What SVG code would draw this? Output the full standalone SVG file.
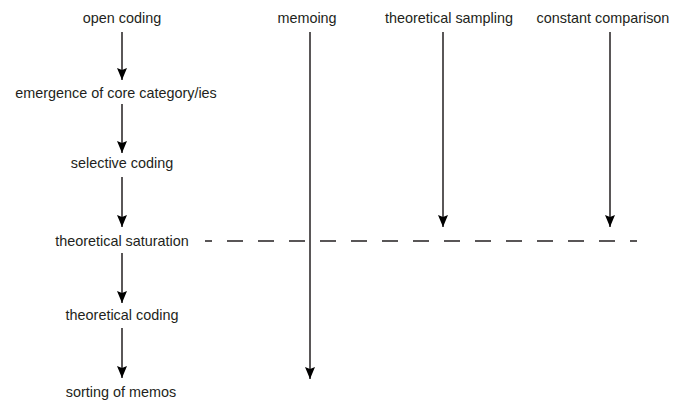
<svg xmlns="http://www.w3.org/2000/svg" width="676" height="405" viewBox="0 0 676 405">
<style>
text{font-family:"Liberation Sans",Arial,sans-serif;font-size:14.4px;fill:#231f20;text-anchor:middle}
.c{stroke:#231f20;stroke-width:1.5;fill:none}
.d{stroke:#231f20;stroke-width:1.5;fill:none;stroke-dasharray:16 15;stroke-dashoffset:9}
</style>
<defs>
<marker id="ah" markerWidth="12" markerHeight="10" refX="12" refY="5" orient="auto" markerUnits="userSpaceOnUse" viewBox="0 0 12 10">
<path d="M0,0 L12,5 L0,10 L2,5 Z" fill="#000"/>
</marker>
</defs>
<rect width="676" height="405" fill="#fff"/>
<g id="open-coding"><text x="122" y="23">open coding</text></g>
<g id="emergence"><text x="116" y="98">emergence of core category/ies</text></g>
<g id="selective-coding"><text x="122" y="168">selective coding</text></g>
<g id="theoretical-saturation"><text x="122" y="246">theoretical saturation</text></g>
<g id="theoretical-coding"><text x="122" y="320">theoretical coding</text></g>
<g id="sorting-of-memos"><text x="121" y="397">sorting of memos</text></g>
<g id="memoing"><text x="307" y="23">memoing</text></g>
<g id="theoretical-sampling"><text x="449" y="23">theoretical sampling</text></g>
<g id="constant-comparison"><text x="603" y="23">constant comparison</text></g>
<g id="connectors">
<line class="c" x1="122" y1="32" x2="122" y2="80" marker-end="url(#ah)"/>
<line class="c" x1="122" y1="104" x2="122" y2="153" marker-end="url(#ah)"/>
<line class="c" x1="122" y1="177" x2="122" y2="227" marker-end="url(#ah)"/>
<line class="c" x1="122" y1="253" x2="122" y2="303" marker-end="url(#ah)"/>
<line class="c" x1="122" y1="328" x2="122" y2="378" marker-end="url(#ah)"/>
<line class="c" x1="310" y1="32" x2="310" y2="379" marker-end="url(#ah)"/>
<line class="c" x1="443" y1="32" x2="443" y2="227" marker-end="url(#ah)"/>
<line class="c" x1="610" y1="32" x2="610" y2="227" marker-end="url(#ah)"/>
<line class="d" x1="205" y1="241" x2="637" y2="241"/>
</g>
</svg>
